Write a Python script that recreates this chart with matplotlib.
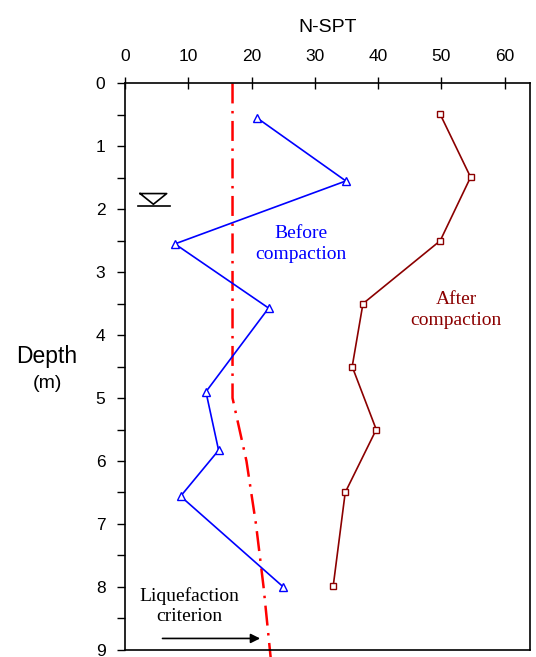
import matplotlib.pyplot as plt
from matplotlib.ticker import MultipleLocator

# N-SPT vs depth
depth_before = [0.55, 1.55, 2.55, 3.57, 4.9, 5.83, 6.56, 8.0]
nspt_before = [20.9, 34.9, 7.9, 22.7, 12.8, 14.8, 8.8, 25.0]

depth_after = [0.49, 1.49, 2.5, 3.5, 4.5, 5.5, 6.5, 7.99]
nspt_after = [49.8, 54.6, 49.8, 37.6, 35.9, 39.7, 34.8, 32.9]

depth_crit = [0.0, 5.0, 6.0, 7.0, 8.0, 9.2]
nspt_crit = [17.0, 17.0, 19.2, 20.7, 21.9, 23.1]

plt.rcParams['font.family'] = ['Liberation Sans', 'DejaVu Sans']

fig = plt.figure(figsize=(5.36, 6.57), dpi=100)
ax = fig.add_axes([0.233, 0.011, 0.756, 0.862])

ax.plot(nspt_crit, depth_crit, color='red', linestyle=(0, (8, 3, 1, 3)),
        linewidth=1.8, clip_on=False, zorder=2)
ax.plot(nspt_before, depth_before, color='blue', linewidth=1.2, marker='^',
        markersize=6, markerfacecolor='white', markeredgecolor='blue', zorder=3)
ax.plot(nspt_after, depth_after, color='#8B0000', linewidth=1.2, marker='s',
        markersize=4.5, markerfacecolor='white', markeredgecolor='#8B0000', zorder=3)

ax.set_xlim(0, 64)
ax.set_ylim(9, 0)
ax.xaxis.tick_top()
ax.xaxis.set_label_position('top')
ax.xaxis.set_major_locator(MultipleLocator(10))
ax.yaxis.set_major_locator(MultipleLocator(1))
ax.yaxis.set_minor_locator(MultipleLocator(0.5))
ax.tick_params(axis='x', direction='inout', labelsize=12.5, length=8, width=1, pad=10)
ax.tick_params(axis='y', which='both', direction='out', labelsize=12.5, length=6,
               width=1, pad=8)
for s in ax.spines.values():
    s.set_linewidth(1.2)

ax.set_xlabel('N-SPT', fontsize=14, labelpad=12)
fig.text(0.088, 0.458, 'Depth', fontsize=16.5, ha='center', va='center')
fig.text(0.088, 0.417, '(m)', fontsize=14, ha='center', va='center')

serif = ['Liberation Serif', 'DejaVu Serif']
ax.text(27.8, 2.55, 'Before\ncompaction', color='blue', fontsize=14, ha='center',
        va='center', family=serif, linespacing=1.25)
ax.text(52.3, 3.6, 'After\ncompaction', color='#8B0000', fontsize=14, ha='center',
        va='center', family=serif, linespacing=1.25)
ax.text(10.2, 8.3, 'Liquefaction\ncriterion', color='black', fontsize=14,
        ha='center', va='center', family=serif, linespacing=1.25)
ax.annotate('', xy=(21.8, 8.82), xytext=(5.5, 8.82),
            arrowprops=dict(arrowstyle='-|>', color='black', lw=1.2,
                            mutation_scale=14))

# water table symbol
ax.plot([2.4, 6.6, 4.5, 2.4], [1.75, 1.75, 1.92, 1.75], color='black', lw=1.2)
ax.plot([2.0, 7.2], [1.94, 1.94], color='black', lw=1.2)

fig.savefig('out.png', dpi=100)
